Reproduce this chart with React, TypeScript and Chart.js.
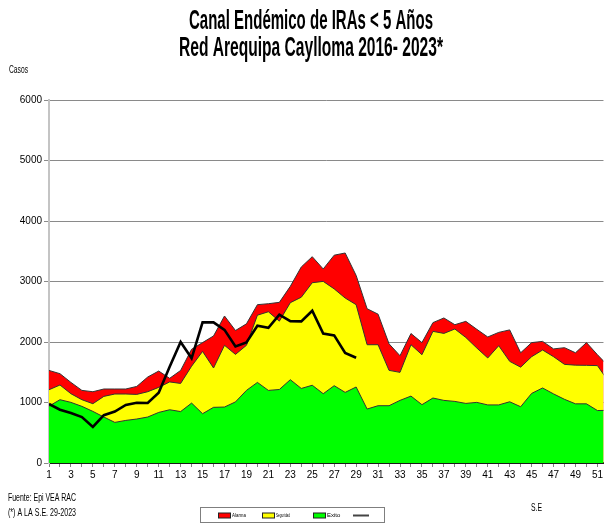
import { useEffect, useRef } from "react";
import { Chart, registerables } from "chart.js";

Chart.register(...registerables);

const FONT = '"Liberation Sans Narrow", "Arial Narrow", "Liberation Sans", Arial, sans-serif';

const titleLines = ["Canal Endémico de IRAs < 5 Años", "Red Arequipa Caylloma 2016- 2023*"];
const yAxisTitle = "Casos";
const xAxisTitle = "S.E";
const footerLines = ["Fuente: Epi VEA RAC", "(*) A LA S.E. 29-2023"];

const weeks = [
  1, 2, 3, 4, 5, 6, 7, 8, 9, 10, 11, 12, 13, 14, 15, 16, 17, 18, 19, 20, 21, 22, 23, 24, 25, 26,
  27, 28, 29, 30, 31, 32, 33, 34, 35, 36, 37, 38, 39, 40, 41, 42, 43, 44, 45, 46, 47, 48, 49, 50, 51, 52,
];
const xTickLabels = [1, 3, 5, 7, 9, 11, 13, 15, 17, 19, 21, 23, 25, 27, 29, 31, 33, 35, 37, 39, 41, 43, 45, 47, 49, 51];
const yTicks = [0, 1000, 2000, 3000, 4000, 5000, 6000];

const alarma = [
  1530, 1476, 1332, 1200, 1178, 1223, 1223, 1223, 1266, 1421, 1520, 1400, 1530, 1880, 1990, 2100,
  2430, 2190, 2300, 2617, 2633, 2655, 2920, 3240, 3410, 3207, 3435, 3471, 3100, 2550, 2460, 1970,
  1773, 2140, 1990, 2320, 2397, 2286, 2341, 2210, 2083, 2159, 2200, 1822, 1990, 2010, 1886, 1906,
  1822, 1990, 1790, 1600,
];
const seguridad = [
  1211, 1289, 1145, 1046, 980, 1101, 1140, 1140, 1134, 1178, 1250, 1340, 1315, 1600, 1845, 1570,
  1945, 1795, 1945, 2443, 2500, 2345, 2650, 2740, 2980, 3002, 2878, 2727, 2617, 1955, 1955, 1531,
  1498, 1955, 1790, 2176, 2142, 2215, 2075, 1901, 1736, 1939, 1680, 1584, 1757, 1868, 1757, 1630,
  1617, 1614, 1610, 1350,
];
const exito = [
  940, 1046, 1002, 936, 853, 760, 671, 704, 727, 760, 836, 880, 850, 990, 815, 920, 925, 1010,
  1200, 1332, 1200, 1215, 1377, 1232, 1285, 1145, 1278, 1167, 1256, 892, 947, 947, 1035, 1106,
  964, 1074, 1035, 1018, 985, 1002, 960, 960, 1012, 930, 1150, 1240, 1142, 1052, 978, 978, 867, 870,
];
const casos2023 = [
  975, 881, 826, 760, 595, 790, 850, 960, 995, 992, 1160, 1590, 2000, 1730, 2324, 2324, 2200, 1928,
  1994, 2270, 2235, 2451, 2345, 2341, 2517, 2140, 2110, 1820, 1740,
];

const seriesLabels = ["Alarma", "Seguridad", "Exito", ""];
const seriesColors = ["#FF0000", "#FFFF00", "#00FF00", "#000000"];

const toPoints = (vals: number[]) => vals.map((v, i) => ({ x: weeks[i], y: v }));

const textPlugin = {
  id: "customTexts",
  afterDraw(chart: any) {
    const ctx: CanvasRenderingContext2D = chart.ctx;
    ctx.save();
    ctx.fillStyle = "#000";
    ctx.textBaseline = "alphabetic";
    ctx.textAlign = "center";
    ctx.font = `bold 27px ${FONT}`;
    ctx.fillText(titleLines[0], 311, 29, 244);
    ctx.fillText(titleLines[1], 311, 56, 264);

    ctx.textAlign = "left";
    ctx.font = `10px ${FONT}`;
    ctx.fillText(yAxisTitle, 9, 73, 19);
    ctx.fillText(footerLines[0], 8, 501, 68);
    ctx.fillText(footerLines[1], 8, 516, 68);
    ctx.fillText(xAxisTitle, 531, 511, 11);

    // legend box
    ctx.strokeStyle = "#7f7f7f";
    ctx.lineWidth = 1;
    ctx.strokeRect(200.5, 507.5, 184, 15);
    const itemX = [218, 262, 313, 353];
    const cy = 515.5;
    ctx.font = `6px ${FONT}`;
    ctx.textBaseline = "middle";
    for (let i = 0; i < 4; i++) {
      const x = itemX[i];
      if (i < 3) {
        ctx.fillStyle = seriesColors[i];
        ctx.fillRect(x, cy - 2.5, 12, 5);
        ctx.strokeStyle = "#222";
        ctx.strokeRect(x + 0.5, cy - 2.5, 12, 5);
        ctx.fillStyle = "#000";
        ctx.fillText(seriesLabels[i], x + 14, cy, 14);
      } else {
        ctx.strokeStyle = "#444";
        ctx.lineWidth = 2;
        ctx.beginPath();
        ctx.moveTo(x, cy);
        ctx.lineTo(x + 16, cy);
        ctx.stroke();
      }
    }
    ctx.restore();
  },
};

export default function App() {
  const ref = useRef<HTMLCanvasElement | null>(null);

  useEffect(() => {
    if (!ref.current) return;
    const areaCommon = {
      borderColor: "#333333",
      borderWidth: 1,
      pointRadius: 0,
      tension: 0,
      fill: "origin",
    };
    const chart = new Chart(ref.current, {
      type: "line",
      data: {
        datasets: [
          {
            ...areaCommon,
            label: seriesLabels[0],
            data: toPoints(alarma),
            backgroundColor: seriesColors[0],
            order: 4,
          },
          {
            ...areaCommon,
            label: seriesLabels[1],
            data: toPoints(seguridad),
            backgroundColor: seriesColors[1],
            order: 3,
          },
          {
            ...areaCommon,
            label: seriesLabels[2],
            data: toPoints(exito),
            backgroundColor: seriesColors[2],
            order: 2,
          },
          {
            label: seriesLabels[3],
            data: toPoints(casos2023),
            borderColor: seriesColors[3],
            borderWidth: 2.6,
            pointRadius: 0,
            tension: 0,
            fill: false,
            order: 1,
          },
        ],
      } as any,
      options: {
        responsive: false,
        animation: false,
        events: [],
        layout: { padding: { top: 100, left: 0, right: 0, bottom: 38 } },
        plugins: {
          legend: { display: false },
          title: { display: false },
          tooltip: { enabled: false },
        },
        scales: {
          x: {
            type: "linear",
            min: 1,
            max: 51.55,
            afterBuildTicks: (s: any) => {
              s.ticks = weeks.filter((w) => w <= 51).map((v) => ({ value: v }));
            },
            afterFit: (s: any) => {
              s.height = 22;
            },
            ticks: {
              autoSkip: false,
              maxRotation: 0,
              minRotation: 0,
              padding: 2,
              color: "#000",
              font: { family: FONT, size: 10 },
              callback: (v: any) => (xTickLabels.includes(Number(v)) ? String(v) : ""),
            },
            grid: { drawOnChartArea: false, drawTicks: true, tickLength: 4, color: "#808080" },
            border: { display: true, color: "#1a1a1a", width: 2 },
          },
          y: {
            min: 0,
            max: 6000,
            afterBuildTicks: (s: any) => {
              s.ticks = yTicks.map((v) => ({ value: v }));
            },
            afterFit: (s: any) => {
              s.width = 49;
            },
            ticks: {
              padding: 2,
              color: "#000",
              font: { family: FONT, size: 10 },
              callback: (v: any) => String(v),
            },
            grid: { color: "#8a8a8a", lineWidth: 1, tickLength: 5, drawOnChartArea: true },
            border: { display: true, color: "#c4c4c4", width: 2 },
          },
        },
      } as any,
      plugins: [textPlugin],
    });
    return () => chart.destroy();
  }, []);

  return (
    <div style={{ position: "fixed", left: 0, top: 0, width: 605, height: 523, background: "#fff" }}>
      <canvas ref={ref} width={605} height={523} style={{ width: 605, height: 523, display: "block" }} />
    </div>
  );
}
